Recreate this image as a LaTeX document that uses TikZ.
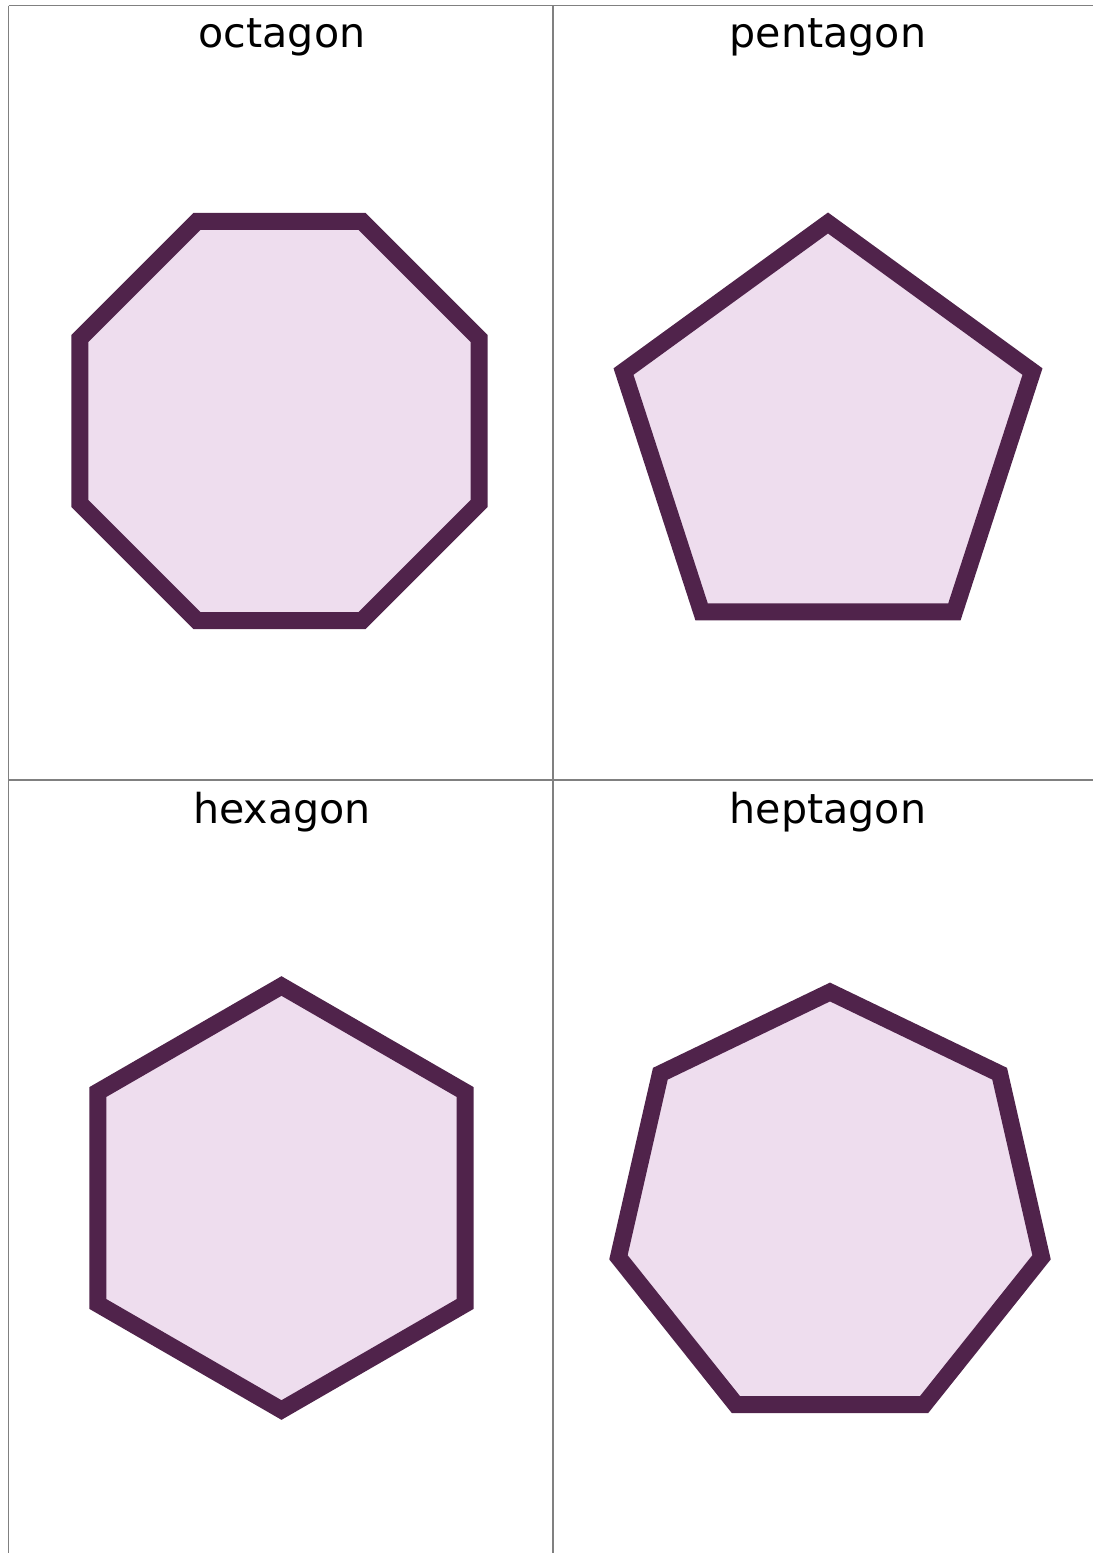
\documentclass[tikz,border=0pt]{standalone}
\usepackage{fontspec}
\setmainfont{DejaVu Sans}
\usepackage{xcolor}
\usepackage{tikz}
\usetikzlibrary{shapes.geometric}
\definecolor{polyedge}{RGB}{80,35,75}
\definecolor{polyfill}{RGB}{238,221,238}

\begin{document}
\begin{tikzpicture}[x=0.5pt,y=-0.5pt,line join=miter,
    polyshape/.style={regular polygon,draw=polyedge,fill=polyfill,line width=8.5pt,inner sep=0pt},
    celltitle/.style={anchor=base,font=\fontsize{20.6}{24}\selectfont,inner sep=0pt},
    cellline/.style={draw=gray,line width=0.75pt}]
  \useasboundingbox (0,0) rectangle (1093,1553);
  \coordinate (TL) at (8.5,5.5);
  \coordinate (TM) at (553,5.5);
  \coordinate (TR) at (1093,5.5);
  \coordinate (ML) at (8.5,780);
  \coordinate (MR) at (1093,780);
  \coordinate (BL) at (8.5,1553);
  \coordinate (BM) at (553,1553);
  \draw[cellline] (TL) -- (TR);
  \draw[cellline] (ML) -- (MR);
  \draw[cellline] (TL) -- (BL);
  \draw[cellline] (TM) -- (BM);
  \node[polyshape,regular polygon sides=8,minimum size=216pt] (oct) at (279.5,421) {};
  \node[polyshape,regular polygon sides=5,minimum size=215pt] (pent) at (828,438) {};
  \node[polyshape,regular polygon sides=6,regular polygon rotate=30,minimum size=212pt] (hex) at (281.5,1198) {};
  \node[polyshape,regular polygon sides=7,minimum size=217pt] (hept) at (830,1209) {};
  \node[celltitle] (octname) at (282,47) {octagon};
  \node[celltitle] (pentname) at (828,47) {pentagon};
  \node[celltitle] (hexname) at (282,823) {hexagon};
  \node[celltitle] (heptname) at (828,823) {heptagon};
\end{tikzpicture}
\end{document}
